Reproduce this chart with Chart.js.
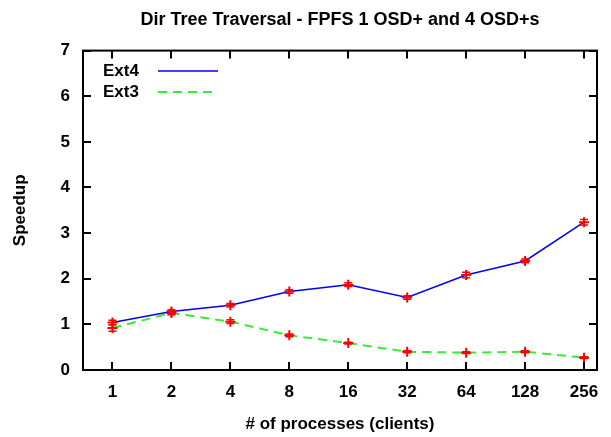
<!DOCTYPE html>
<html>
<head>
<meta charset="utf-8">
<script src="https://cdn.jsdelivr.net/npm/chart.js@4"></script>
<style>
  html, body { margin: 0; padding: 0; background: #fff; }
  #wrap { width: 611px; height: 437px; }
</style>
</head>
<body>
<div id="wrap"><canvas id="chart"></canvas></div>
<script>
const categories = ['1', '2', '4', '8', '16', '32', '64', '128', '256'];
const ext4 = [1.04, 1.28, 1.42, 1.72, 1.87, 1.59, 2.08, 2.39, 3.24];
const ext4Err = [0.05, 0.04, 0.04, 0.04, 0.04, 0.04, 0.06, 0.04, 0.06];
const ext3 = [0.92, 1.25, 1.06, 0.76, 0.59, 0.40, 0.38, 0.40, 0.27];
const ext3Err = [0.07, 0.04, 0.04, 0.03, 0.02, 0.02, 0.02, 0.02, 0.02];
const yTicks = [0, 1, 2, 3, 4, 5, 6, 7];

const FONT = 'Liberation Sans, Arial, sans-serif';

function toPoints(vals) {
  return vals.map((v, i) => ({ x: i + 1, y: v }));
}

// gnuplot-like frame, inward ticks on all sides, error bars, legend
const gnuplotLook = {
  id: 'gnuplotLook',
  afterDatasetsDraw(chart) {
    const { ctx, chartArea: a, scales } = chart;
    const xs = scales.x, ys = scales.y;
    ctx.save();

    // error bars
    ctx.strokeStyle = '#ff0000';
    ctx.lineWidth = 1.5;
    [[ext4, ext4Err], [ext3, ext3Err]].forEach(([vals, errs]) => {
      vals.forEach((v, i) => {
        const px = xs.getPixelForValue(i + 1);
        const top = ys.getPixelForValue(v + errs[i]);
        const bot = ys.getPixelForValue(v - errs[i]);
        ctx.beginPath();
        ctx.moveTo(px, top); ctx.lineTo(px, bot);
        ctx.moveTo(px - 4, top); ctx.lineTo(px + 4, top);
        ctx.moveTo(px - 4, bot); ctx.lineTo(px + 4, bot);
        ctx.stroke();
      });
    });

    // ticks
    ctx.strokeStyle = '#000';
    ctx.lineWidth = 2;
    const tl = 8;
    ctx.beginPath();
    categories.forEach((c, i) => {
      const px = Math.round(xs.getPixelForValue(i + 1));
      ctx.moveTo(px, a.bottom); ctx.lineTo(px, a.bottom - tl);
      ctx.moveTo(px, a.top); ctx.lineTo(px, a.top + tl);
    });
    yTicks.forEach(t => {
      const py = Math.round(ys.getPixelForValue(t));
      ctx.moveTo(a.left, py); ctx.lineTo(a.left + tl, py);
      ctx.moveTo(a.right, py); ctx.lineTo(a.right - tl, py);
    });
    ctx.stroke();

    // frame
    ctx.lineWidth = 2;
    ctx.strokeRect(a.left, a.top, a.right - a.left, a.bottom - a.top);

    // legend
    ctx.font = 'bold 17px ' + FONT;
    ctx.fillStyle = '#000';
    ctx.textBaseline = 'middle';
    ctx.textAlign = 'left';
    ctx.fillText('Ext4', 103, 71);
    ctx.fillText('Ext3', 103, 92);
    ctx.lineWidth = 1.5;
    ctx.strokeStyle = '#0000ff';
    ctx.beginPath(); ctx.moveTo(158, 71); ctx.lineTo(218, 71); ctx.stroke();
    ctx.lineWidth = 2;
    ctx.strokeStyle = '#33ee33';
    ctx.setLineDash([9, 6]);
    ctx.beginPath(); ctx.moveTo(158, 92); ctx.lineTo(218, 92); ctx.stroke();
    ctx.restore();
  }
};

new Chart(document.getElementById('chart'), {
  type: 'line',
  data: {
    datasets: [
      {
        label: 'Ext4',
        data: toPoints(ext4),
        borderColor: '#0000ff',
        borderWidth: 1.5,
        pointStyle: 'cross',
        pointRadius: 5,
        pointBorderWidth: 2,
        pointBorderColor: '#ff0000',
        pointBackgroundColor: '#ff0000',
        tension: 0
      },
      {
        label: 'Ext3',
        data: toPoints(ext3),
        borderColor: '#33ee33',
        borderWidth: 2,
        borderDash: [9, 6],
        pointStyle: 'cross',
        pointRadius: 5,
        pointBorderWidth: 2,
        pointBorderColor: '#ff0000',
        pointBackgroundColor: '#ff0000',
        tension: 0
      }
    ]
  },
  options: {
    responsive: true,
    maintainAspectRatio: false,
    animation: false,
    layout: { padding: { left: 0, right: 14, top: 0, bottom: 0 } },
    plugins: {
      legend: { display: false },
      tooltip: { enabled: false },
      title: {
        display: true,
        text: 'Dir Tree Traversal - FPFS 1 OSD+ and 4 OSD+s',
        fullSize: false,
        color: '#000',
        font: { family: FONT, size: 18, weight: 'bold' },
        padding: { top: 9, bottom: 20 }
      }
    },
    scales: {
      x: {
        type: 'linear',
        min: 0.5,
        max: 9.22,
        afterBuildTicks(scale) {
          scale.ticks = categories.map((c, i) => ({ value: i + 1 }));
        },
        afterFit(scale) { scale.height = 67; },
        grid: { display: false, drawTicks: false },
        border: { display: false },
        ticks: {
          color: '#000',
          padding: 12,
          maxRotation: 0,
          autoSkip: false,
          font: { family: FONT, size: 17, weight: 'bold' },
          callback: v => categories[v - 1]
        },
        title: {
          display: true,
          text: '# of processes (clients)',
          color: '#000',
          font: { family: FONT, size: 17, weight: 'bold' },
          padding: { top: 4, bottom: 2 }
        }
      },
      y: {
        min: 0,
        max: 7,
        afterBuildTicks(scale) {
          scale.ticks = yTicks.map(v => ({ value: v }));
        },
        afterFit(scale) { scale.width = 83; },
        grid: { display: false, drawTicks: false },
        border: { display: false },
        ticks: {
          color: '#000',
          padding: 13,
          font: { family: FONT, size: 17, weight: 'bold' }
        },
        title: {
          display: true,
          text: 'Speedup',
          color: '#000',
          font: { family: FONT, size: 17, weight: 'bold' },
          padding: { top: 10, bottom: 6 }
        }
      }
    }
  },
  plugins: [gnuplotLook]
});
</script>
</body>
</html>
